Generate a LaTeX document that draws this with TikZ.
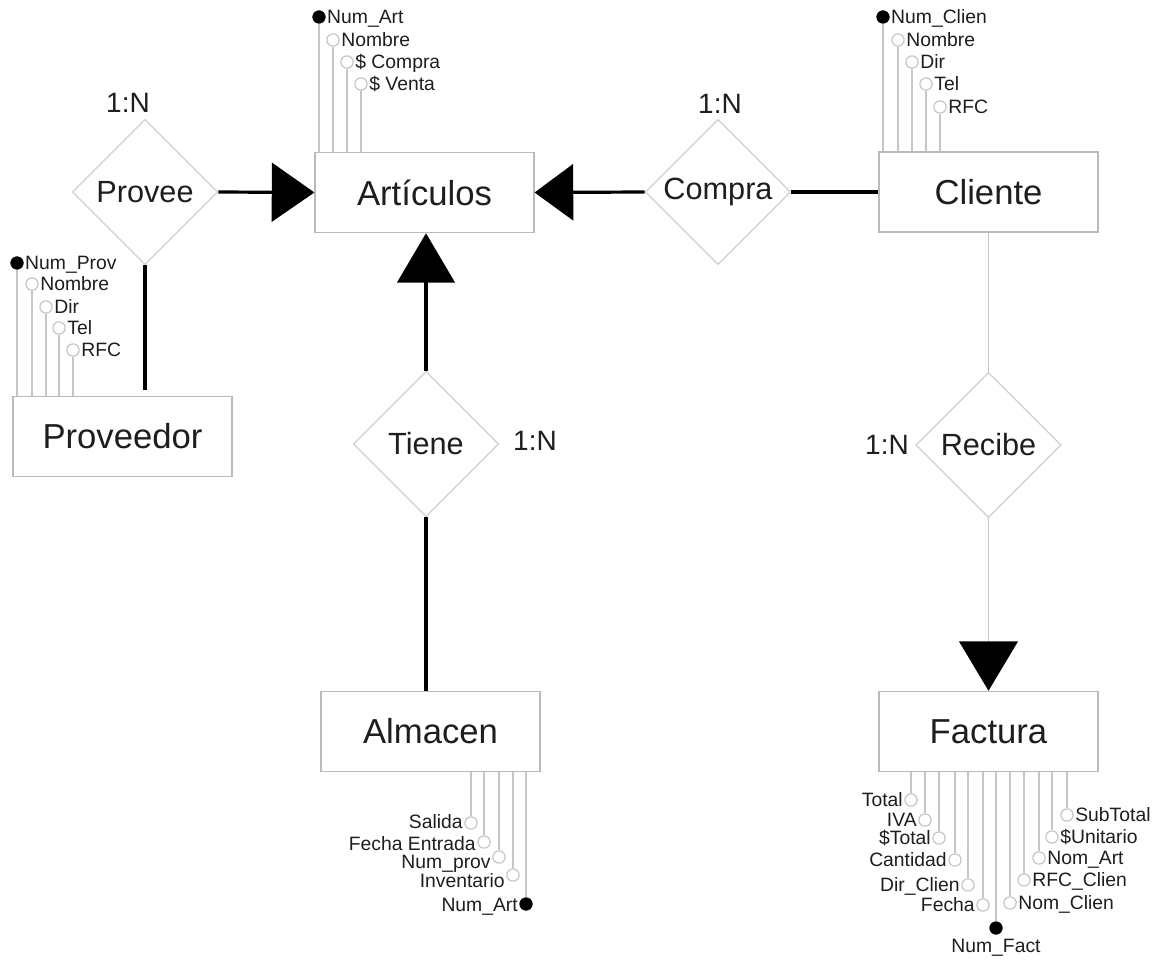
\documentclass[tikz,border=0pt]{standalone}
\usepackage{fontspec}
\setmainfont{Liberation Sans}
\usetikzlibrary{shapes.geometric,arrows.meta}
\definecolor{boxgray}{HTML}{BABABA}
\definecolor{dgray}{HTML}{D4D4D4}
\definecolor{agray}{HTML}{C6C6C6}
\definecolor{txt}{HTML}{1E1E1E}
\begin{document}
\begin{tikzpicture}[x=0.75pt,y=-0.75pt,
  entity/.style={draw=boxgray,line width=1.1pt,minimum width=164pt,minimum height=60pt,inner sep=0pt,
    text=txt,font=\fontsize{26pt}{30pt}\selectfont},
  rel/.style={diamond,draw=dgray,line width=1.1pt,minimum width=109pt,minimum height=109pt,inner sep=0pt,
    text=txt,font=\fontsize{23pt}{27pt}\selectfont},
  card/.style={text=txt,inner sep=0pt,font=\fontsize{21pt}{25pt}\selectfont},
  conn/.style={draw=black,line width=2.4pt},
  thinconn/.style={draw=agray,line width=1.1pt},
  attrO/.style={circle,draw=agray,fill=white,line width=0.9pt,minimum size=9.2pt,inner sep=0pt},
  attrF/.style={circle,draw=black,fill=black,minimum size=9.5pt,inner sep=0pt},
  alab/.style={text=txt,inner sep=0pt,font=\fontsize{14.5pt}{16pt}\selectfont},
  aline/.style={draw=agray,line width=1.1pt}]
\useasboundingbox (0,0) rectangle (1157,962);
\fill[white] (0,0) rectangle (1157,962);

% entities
\node[entity] (art) at (424.5,192.5) {Artículos};
\node[entity] (cli) at (988.5,192) {Cliente};
\node[entity] (prov) at (122.5,436.5) {Proveedor};
\node[entity] (alm) at (430.5,731.5) {Almacen};
\node[entity] (fac) at (988.5,731.5) {Factura};

% relationships
\node[rel] (provee) at (145,192) {Provee};
\node[rel] (compra) at (718,192) {Compra};
\node[rel] (tiene) at (426,444) {Tiene};
\node[rel] (recibe) at (988.5,445) {Recibe};

% cardinalities
\node[card] (card1) at (128,103) {1:N};
\node[card] (card2) at (720,104) {1:N};
\node[card] (card3) at (535,441) {1:N};
\node[card] (card4) at (887,445) {1:N};

% connectors
\draw[conn,-{Triangle[length=32pt,width=44pt]}] (provee.east) -- (art.west);
\draw[conn,-{Triangle[length=29pt,width=42pt]}] (compra.west) -- (art.east);
\draw[conn] (compra.east) -- (cli.west);
\draw[conn,-{Triangle[length=37pt,width=43pt]}] (tiene.north) -- (tiene.north |- art.south);
\draw[conn] (tiene.south) -- (tiene.south |- alm.north);
\draw[conn,shorten >=4.5pt] (provee.south) -- (provee.south |- prov.north);
\draw[thinconn] (cli.south) -- (recibe.north);
\draw[thinconn,-{Triangle[length=37pt,width=44pt,color=black]}] (recibe.south) -- (fac.north);

% Articulos attributes
\foreach \i/\x/\y/\t/\s in {1/319/17/Num\_Art/attrF,2/333/40/Nombre/attrO,3/347/62/\$ Compra/attrO,4/361/84/\$ Venta/attrO}{
  \node[\s] (art-a\i) at (\x,\y) {};
  \node[alab,anchor=base west] (art-l\i) at ([xshift=1pt,yshift=-5.2pt]art-a\i.east) {\t};
  \draw[aline] (art-a\i) -- (art-a\i |- art.north);
}
% Cliente attributes
\foreach \i/\x/\y/\t/\s in {1/883/17/Num\_Clien/attrF,2/898/40/Nombre/attrO,3/912/62/Dir/attrO,4/926/84/Tel/attrO,5/940/107/RFC/attrO}{
  \node[\s] (cli-a\i) at (\x,\y) {};
  \node[alab,anchor=base west] (cli-l\i) at ([xshift=1pt,yshift=-5.2pt]cli-a\i.east) {\t};
  \draw[aline] (cli-a\i) -- (cli-a\i |- cli.north);
}
% Proveedor attributes
\foreach \i/\x/\y/\t/\s in {1/17/263/Num\_Prov/attrF,2/32/284/Nombre/attrO,3/46/307/Dir/attrO,4/59/328/Tel/attrO,5/73/350/RFC/attrO}{
  \node[\s] (prov-a\i) at (\x,\y) {};
  \node[alab,anchor=base west] (prov-l\i) at ([xshift=1pt,yshift=-5.2pt]prov-a\i.east) {\t};
  \draw[aline] (prov-a\i) -- (prov-a\i |- prov.north);
}
% Almacen attributes (x, circle y, baseline y)
\foreach \i/\x/\y/\b/\t/\s in {1/471/823/828/Salida/attrO,2/484/842/850/Fecha Entrada/attrO,3/499/857/868/Num\_prov/attrO,4/513/875/887/Inventario/attrO,5/526/904/911/Num\_Art/attrF}{
  \node[\s] (alm-a\i) at (\x,\y) {};
  \coordinate (alm-b\i) at (\x,\b);
  \node[alab,anchor=base east] (alm-l\i) at ([xshift=-1pt]alm-a\i.west |- alm-b\i) {\t};
  \draw[aline] (alm-a\i) -- (alm-a\i |- alm.south);
}
% Factura attributes (left side)
\foreach \i/\x/\y/\t in {1/911/800/Total,2/925/820/IVA,3/939/838/\$Total,4/955/860/Cantidad,5/968/885/Dir\_Clien,6/983/905/Fecha}{
  \node[attrO] (fac-a\i) at (\x,\y) {};
  \node[alab,anchor=base east] (fac-l\i) at ([xshift=-1pt,yshift=-5.2pt]fac-a\i.west) {\t};
  \draw[aline] (fac-a\i) -- (fac-a\i |- fac.south);
}
% Factura key
\node[attrF] (fac-a7) at (996,928) {};
\node[alab,below=3pt] (fac-l7) at (fac-a7.south) {Num\_Fact};
\draw[aline] (fac-a7) -- (fac-a7 |- fac.south);
% Factura attributes (right side)
\foreach \i/\x/\y/\t in {8/1010/903/Nom\_Clien,9/1024/880/RFC\_Clien,10/1039/858/Nom\_Art,11/1052/837/\$Unitario,12/1067/815/SubTotal}{
  \node[attrO] (fac-a\i) at (\x,\y) {};
  \node[alab,anchor=base west] (fac-l\i) at ([xshift=1pt,yshift=-5.2pt]fac-a\i.east) {\t};
  \draw[aline] (fac-a\i) -- (fac-a\i |- fac.south);
}
\end{tikzpicture}
\end{document}
